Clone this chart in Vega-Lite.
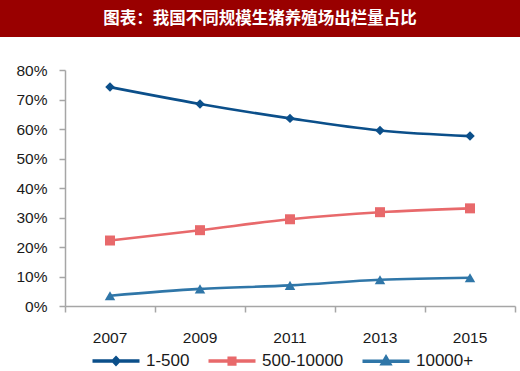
{
  "$schema": "https://vega.github.io/schema/vega-lite/v6.json",
  "background": "white",
  "padding": 0,
  "spacing": 33,
  "bounds": "flush",
  "config": {
    "font": "Liberation Sans",
    "view": {"stroke": null}
  },
  "vconcat": [
    {
      "width": 520,
      "height": 37,
      "view": {"fill": "#990000", "stroke": null},
      "data": {"values": [{"title": "图表：我国不同规模生猪养殖场出栏量占比"}]},
      "mark": {
        "type": "text",
        "font": "Noto Sans CJK SC",
        "fontWeight": "bold",
        "fontSize": 16.5,
        "color": "white",
        "baseline": "middle",
        "align": "center"
      },
      "encoding": {"text": {"field": "title"}}
    },
    {
      "width": 520,
      "height": 236,
      "data": {
        "values": [
          {"year": 2007, "series": "1-500", "share": 0.742},
          {"year": 2009, "series": "1-500", "share": 0.685},
          {"year": 2011, "series": "1-500", "share": 0.636},
          {"year": 2013, "series": "1-500", "share": 0.595},
          {"year": 2015, "series": "1-500", "share": 0.576},
          {"year": 2007, "series": "500-10000", "share": 0.222},
          {"year": 2009, "series": "500-10000", "share": 0.257},
          {"year": 2011, "series": "500-10000", "share": 0.294},
          {"year": 2013, "series": "500-10000", "share": 0.318},
          {"year": 2015, "series": "500-10000", "share": 0.331},
          {"year": 2007, "series": "10000+", "share": 0.035},
          {"year": 2009, "series": "10000+", "share": 0.058},
          {"year": 2011, "series": "10000+", "share": 0.070},
          {"year": 2013, "series": "10000+", "share": 0.089},
          {"year": 2015, "series": "10000+", "share": 0.096}
        ]
      },
      "encoding": {
        "x": {
          "field": "year",
          "type": "quantitative",
          "scale": {"domain": [2006, 2016], "range": [65, 515], "nice": false, "zero": false},
          "axis": {
            "title": null,
            "values": [2006, 2008, 2010, 2012, 2014, 2016],
            "labels": false,
            "grid": false,
            "domainColor": "#A6A6A6",
            "domainWidth": 1.5,
            "tickColor": "#A6A6A6",
            "tickWidth": 1.5,
            "tickSize": 6
          }
        },
        "y": {
          "field": "share",
          "type": "quantitative",
          "scale": {"domain": [0, 0.8], "nice": false},
          "axis": {
            "title": null,
            "format": ".0%",
            "values": [0, 0.1, 0.2, 0.3, 0.4, 0.5, 0.6, 0.7, 0.8],
            "offset": -65,
            "grid": false,
            "domainColor": "#A6A6A6",
            "domainWidth": 1.5,
            "tickColor": "#A6A6A6",
            "tickWidth": 1.5,
            "tickSize": 6,
            "labelPadding": 12,
            "labelFontSize": 15.5,
            "labelColor": "#1a1a1a",
            "labelFont": "Liberation Sans"
          }
        },
        "color": {
          "field": "series",
          "type": "nominal",
          "sort": ["1-500", "500-10000", "10000+"],
          "scale": {
            "domain": ["1-500", "500-10000", "10000+"],
            "range": ["#0B4F8A", "#E8696B", "#2F76A8"]
          },
          "legend": {
            "title": null,
            "orient": "none",
            "direction": "horizontal",
            "legendX": 104,
            "legendY": 349,
            "symbolSize": 400,
            "labelOffset": 18,
            "columnPadding": 11,
            "labelFontSize": 17,
            "labelColor": "#1a1a1a",
            "labelFont": "Liberation Sans",
            "encode": {
              "symbols": {
                "update": {
                  "shape": {"signal": "datum.value === '1-500' ? 'M-2.35,0L2.35,0M0,-0.3L0.28,0L0,0.3L-0.28,0Z' : datum.value === '500-10000' ? 'M-2.35,0L2.35,0M-0.28,-0.28L0.28,-0.28L0.28,0.28L-0.28,0.28Z' : 'M-2.35,0L2.35,0M0,-0.38L0.36,0.25L-0.36,0.25Z'"},
                  "fill": {"signal": "scale('color', datum.value)"},
                  "stroke": {"signal": "scale('color', datum.value)"},
                  "strokeWidth": {"value": 3.5},
                  "opacity": {"value": 1}
                }
              }
            }
          }
        }
      },
      "layer": [
        {
          "mark": {"type": "line", "interpolate": "monotone", "strokeWidth": 2.6}
        },
        {
          "transform": [{"filter": "datum.series === '1-500'"}],
          "mark": {"type": "point", "filled": true, "opacity": 1, "shape": "diamond", "size": 90}
        },
        {
          "transform": [{"filter": "datum.series === '500-10000'"}],
          "mark": {"type": "point", "filled": true, "opacity": 1, "shape": "square", "size": 100}
        },
        {
          "transform": [{"filter": "datum.series === '10000+'"}],
          "mark": {"type": "point", "filled": true, "opacity": 1, "shape": "triangle-up", "size": 110}
        },
        {
          "transform": [{"filter": "datum.series === '1-500'"}],
          "mark": {"type": "text", "fontSize": 15.5, "baseline": "top", "color": "#1a1a1a", "font": "Liberation Sans"},
          "encoding": {
            "y": {"datum": 0},
            "yOffset": {"value": 25},
            "text": {"field": "year", "type": "ordinal"},
            "color": {"value": "#1a1a1a"}
          }
        }
      ]
    }
  ]
}
